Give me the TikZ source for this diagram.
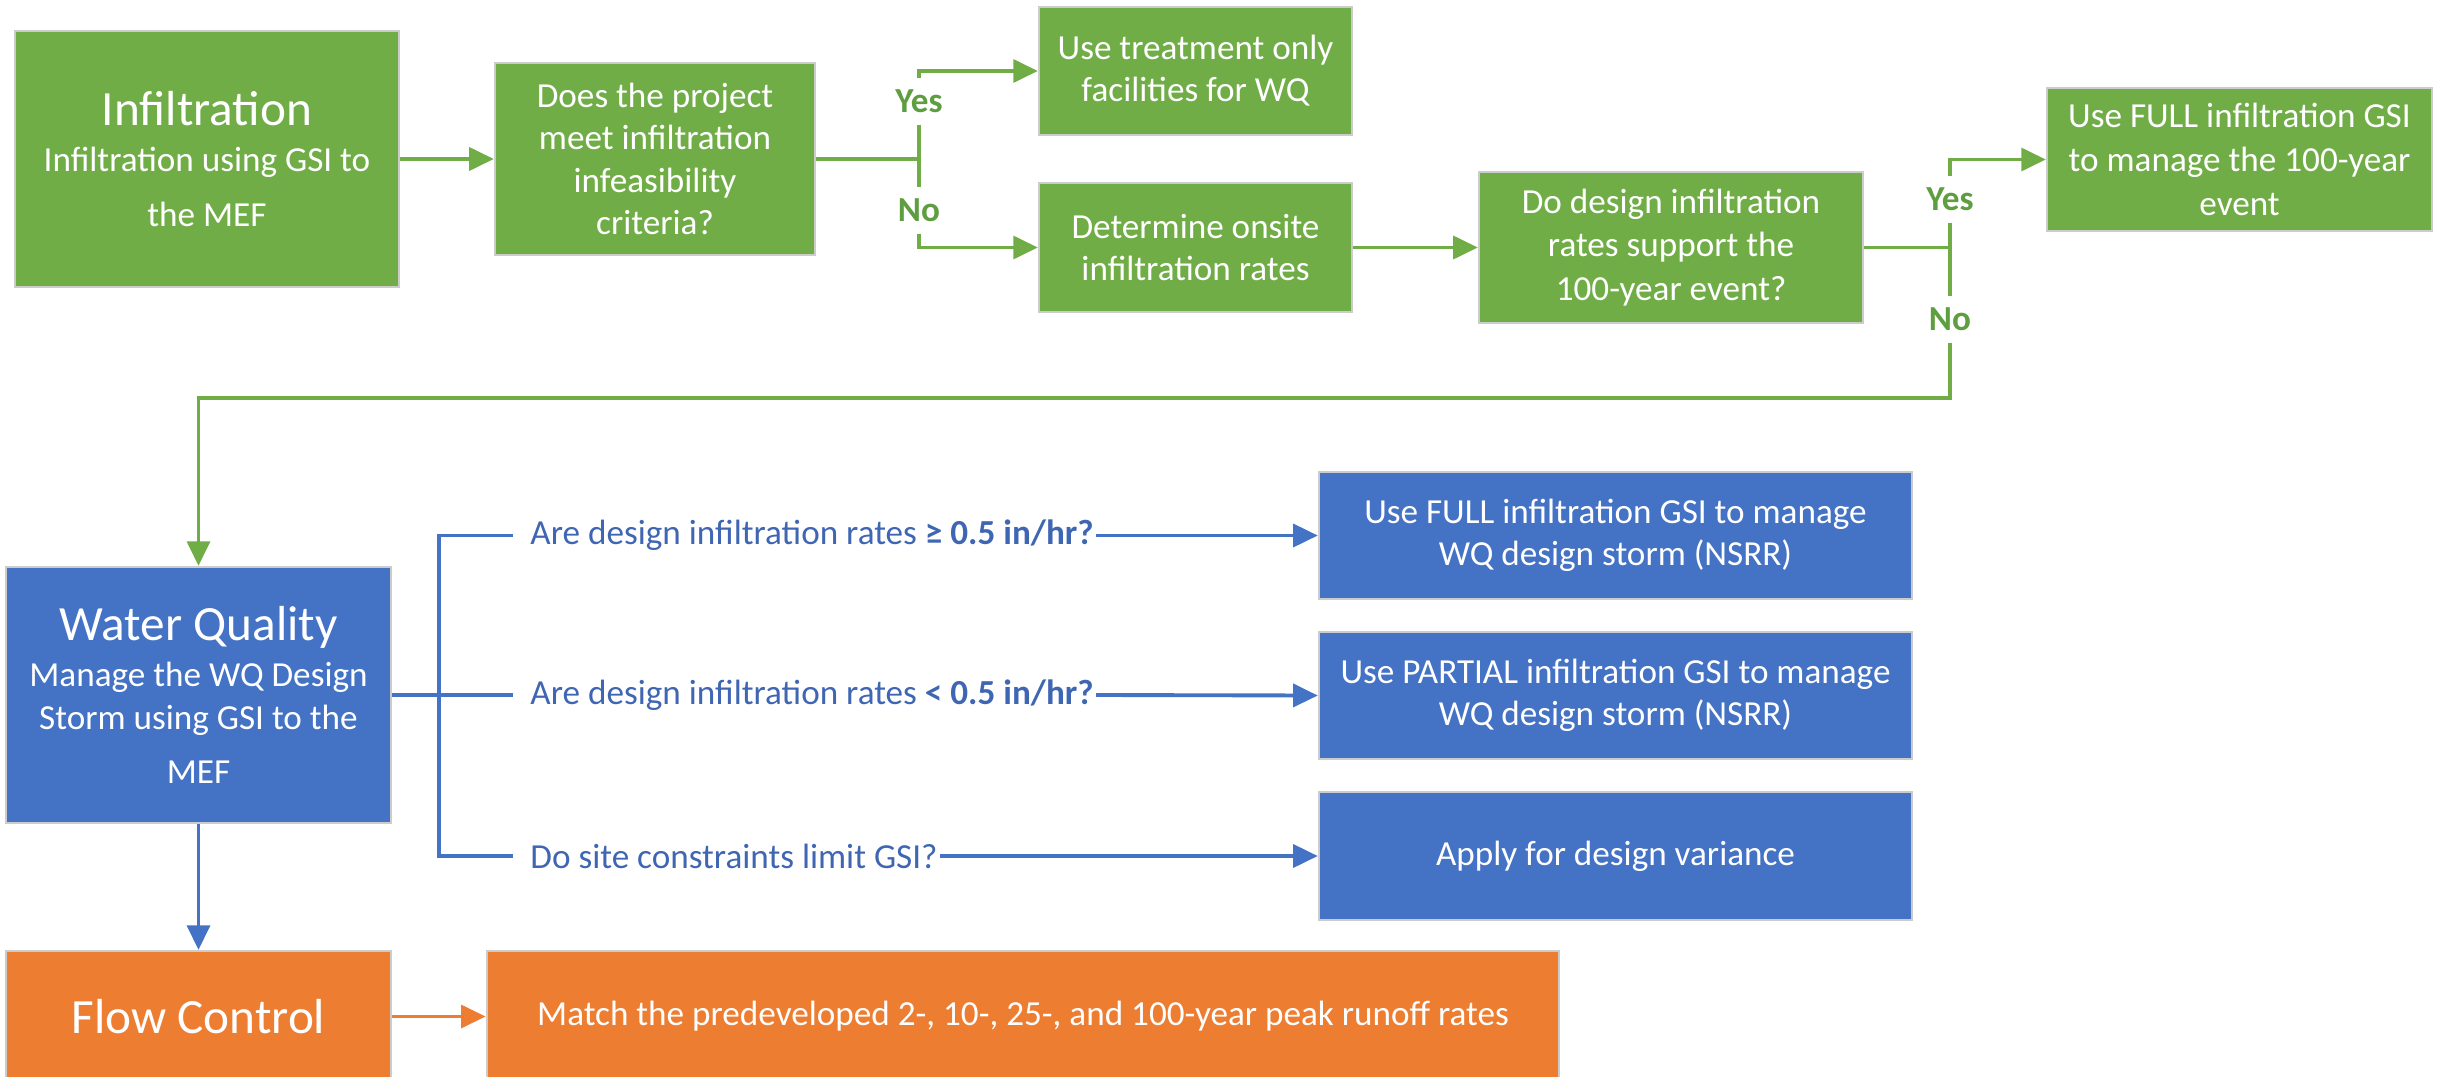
\documentclass[tikz,border=0pt]{standalone}
\usepackage{fontspec}
\setmainfont{Carlito}
\usepackage{tikz}
\usetikzlibrary{arrows.meta,positioning}
\definecolor{infgreen}{HTML}{70AD47}
\definecolor{wqblue}{HTML}{4472C4}
\definecolor{fcorange}{HTML}{ED7D31}
\definecolor{yngreen}{HTML}{5F9E40}
\definecolor{qblue}{HTML}{3F66B2}
\newcommand{\titlefont}{\fontsize{14}{17}\selectfont}

\begin{document}
\begin{tikzpicture}[x=0.01cm, y=-0.01cm,
		box/.style={draw=black!20, line width=0.6pt, text=white, align=center, inner sep=0pt, font=\fontsize{10}{12}\selectfont},
		gbox/.style={box, fill=infgreen},
		bbox/.style={box, fill=wqblue},
		obox/.style={box, fill=fcorange},
		gline/.style={infgreen, line width=1.1pt},
		bline/.style={wqblue, line width=1.1pt},
		garrow/.style={gline, -{Triangle[length=7pt,width=6.5pt]}},
		barrow/.style={bline, -{Triangle[length=7pt,width=6.5pt]}},
		oarrow/.style={fcorange, line width=1.1pt, -{Triangle[length=7pt,width=6.5pt]}},
		yn/.style={text=yngreen, font=\fontsize{10}{12}\selectfont\bfseries, minimum height=0.45cm, inner sep=0pt},
		qlabel/.style={text=qblue, anchor=west, inner xsep=0.5pt, inner ysep=0pt, font=\fontsize{10}{12}\selectfont}]
	\useasboundingbox (0,0) rectangle (2443,1076);

	\node[gbox, minimum width=3.84cm, minimum height=2.56cm] (inf) at (207,159) {{\titlefont Infiltration}\\[1.1pt] Infiltration using GSI to\\[3.6pt] the MEF};
	\node[gbox, minimum width=3.2cm, minimum height=1.92cm] (q1) at (655,159) {Does the project\\ meet infiltration\\ infeasibility\\ criteria?};
	\node[gbox, minimum width=3.13cm, minimum height=1.28cm] (treat) at (1195.5,71) {Use treatment only\\ facilities for WQ};
	\node[gbox, minimum width=3.13cm, minimum height=1.29cm] (det) at (1195.5,247.5) {Determine onsite\\ infiltration rates};
	\node[gbox, minimum width=3.84cm, minimum height=1.51cm] (q2) at (1671,247.5) {Do design infiltration\\[0.4pt] rates support the\\[0.4pt] 100-year event?};
	\node[gbox, minimum width=3.85cm, minimum height=1.43cm] (full) at (2239.5,159.5) {Use FULL infiltration GSI\\[0.4pt] to manage the 100-year\\[0.4pt] event};

	\node[yn] (yes1) at (919,101.5) {Yes};
	\node[yn] (no1) at (919,210.5) {No};
	\node[yn] (yes2) at (1950,199.5) {Yes};
	\node[yn] (no2) at (1950,319.5) {No};
	\coordinate (ret) at (1950,398);

	\draw[garrow] (inf.east) -- (q1.west);
	\draw[gline] (q1.east) -- (q1.east -| yes1.south);
	\draw[garrow] (yes1.north) |- (treat.west);
	\draw[gline] (yes1.south) -- (no1.north);
	\draw[garrow] (no1.south) |- (det.west);
	\draw[garrow] (det.east) -- (q2.west);
	\draw[gline] (q2.east) -- (q2.east -| yes2.south);
	\draw[garrow] (yes2.north) |- (full.west);
	\draw[gline] (yes2.south) -- (no2.north);

	\node[bbox, minimum width=3.85cm, minimum height=2.56cm] (wq) at (198.5,695) {{\titlefont Water Quality}\\[1.2pt] Manage the WQ Design\\ Storm using GSI to the\\[3.5pt] MEF};
	\draw[garrow] (no2.south) -- (ret) -| (wq.north);

	\node[bbox, minimum width=5.93cm, minimum height=1.27cm] (b1) at (1615.5,535.5) {Use FULL infiltration GSI to manage\\ WQ design storm (NSRR)};
	\node[bbox, minimum width=5.93cm, minimum height=1.27cm] (b2) at (1615.5,695.5) {Use PARTIAL infiltration GSI to manage\\ WQ design storm (NSRR)};
	\node[bbox, minimum width=5.93cm, minimum height=1.28cm] (b3) at (1615.5,856) {Apply for design variance};

	\node[qlabel] (qa) at (528,535.5) {Are design infiltration rates \textbf{≥ 0.5 in/hr?}};
	\node[qlabel] (qb) at (528,695) {Are design infiltration rates \textbf{< 0.5 in/hr?}};
	\node[qlabel] (qc) at (528,856) {Do site constraints limit GSI?};
	\coordinate (bt) at (439,695);

	\draw[bline] (wq.east) -- ([xshift=-0.15cm]qb.west);
	\draw[bline] ([xshift=-0.15cm]qa.west) -- (qa.west -| bt) -- (qc.west -| bt) -- ([xshift=-0.15cm]qc.west);
	\draw[barrow] (qa.east) -- (b1.west);
	\draw[barrow] (qb.east) -- (b2.west);
	\draw[barrow] (qc.east) -- (b3.west);

	\node[obox, minimum width=3.85cm, minimum height=1.31cm] (fc) at (198.5,1016.5) {\titlefont Flow Control};
	\node[obox, minimum width=10.72cm, minimum height=1.31cm] (match) at (1023,1016.5) {Match the predeveloped 2-, 10-, 25-, and 100-year peak runoff rates};
	\draw[barrow] (wq.south) -- (fc.north);
	\draw[oarrow] (fc.east) -- (match.west);
\end{tikzpicture}
\end{document}
